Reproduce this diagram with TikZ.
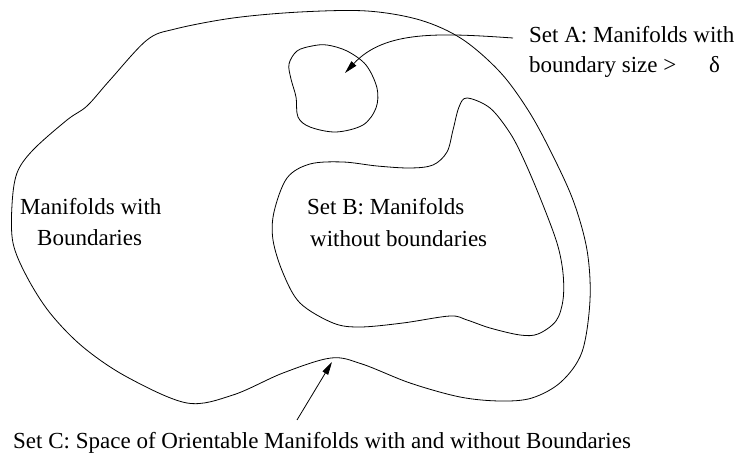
\documentclass[tikz,border=0pt]{standalone}
\usepackage{fontspec}
\setmainfont{Liberation Serif}
\usetikzlibrary{arrows.meta}
\begin{document}
\begin{tikzpicture}[x=1pt,y=-1pt,
    region/.style={line width=0.8pt},
    pointer/.style={line width=0.8pt,-{Triangle[length=13pt,width=6.5pt]}},
    lbl/.style={anchor=base west,inner sep=0pt,font=\fontsize{23}{27}\selectfont}]
  \useasboundingbox (0,0) rectangle (740,454);

  % Set C: outer region
  \draw[region] plot[smooth cycle,tension=0.55] coordinates {
    (13,243) (12,205) (17,173) (33,150) (67,120) (87,106) (110,80) (147,40)
    (175,29) (233,18) (300,12) (367,11) (420,20) (462,39) (500,72) (528,110)
    (550,150) (573,200) (587,250) (590,300) (582,352) (561,382) (532,398)
    (500,401) (460,397) (410,383) (362,364) (331,358) (283,373) (233,395)
    (187,403) (127,377) (83,347) (50,313) (27,277)};

  % Set A: small region
  \draw[region] plot[smooth cycle,tension=0.55] coordinates {
    (289,64) (297,51) (312,46) (327,45) (347,51) (366,65) (377,88) (376,108)
    (363,125) (336,132) (310,127) (298,117) (296,97) (291,79)};

  % Set B: inner region
  \draw[region] plot[smooth cycle,tension=0.55] coordinates {
    (467,98) (490,108) (510,133) (524,160) (541,200) (557,243) (563,273)
    (563,300) (556,321) (538,334) (520,335) (490,328) (467,320) (450,316)
    (403,323) (360,327) (333,323) (300,303) (283,273) (273,240) (274,212)
    (287,178) (310,164) (343,162) (377,166) (410,168) (433,165) (447,152)
    (453,130) (459,107)};

  % labels
  \node[lbl] (la1) at (529,43) {Set A: Manifolds with};
  \node[lbl] (la2) at (529,73) {boundary size >};
  \node[lbl] (delta) at (709,73) {δ};
  \node[lbl] (lw1) at (20,215) {Manifolds with};
  \node[lbl] (lw2) at (37,246) {Boundaries};
  \node[lbl] (lb1) at (307,215) {Set B: Manifolds};
  \node[lbl] (lb2) at (310,247) {without boundaries};
  \node[lbl] (lc) at (13,449) {Set C: Space of Orientable Manifolds with and without Boundaries};

  % pointers
  \coordinate (atail) at (513,38);
  \coordinate (ahead) at (345,73);
  \coordinate (ctail) at (297,420);
  \coordinate (chead) at (332,362);
  \draw[pointer] (atail) .. controls (440,33) and (385,30) .. (ahead);
  \draw[pointer] (ctail) -- (chead);
\end{tikzpicture}
\end{document}
